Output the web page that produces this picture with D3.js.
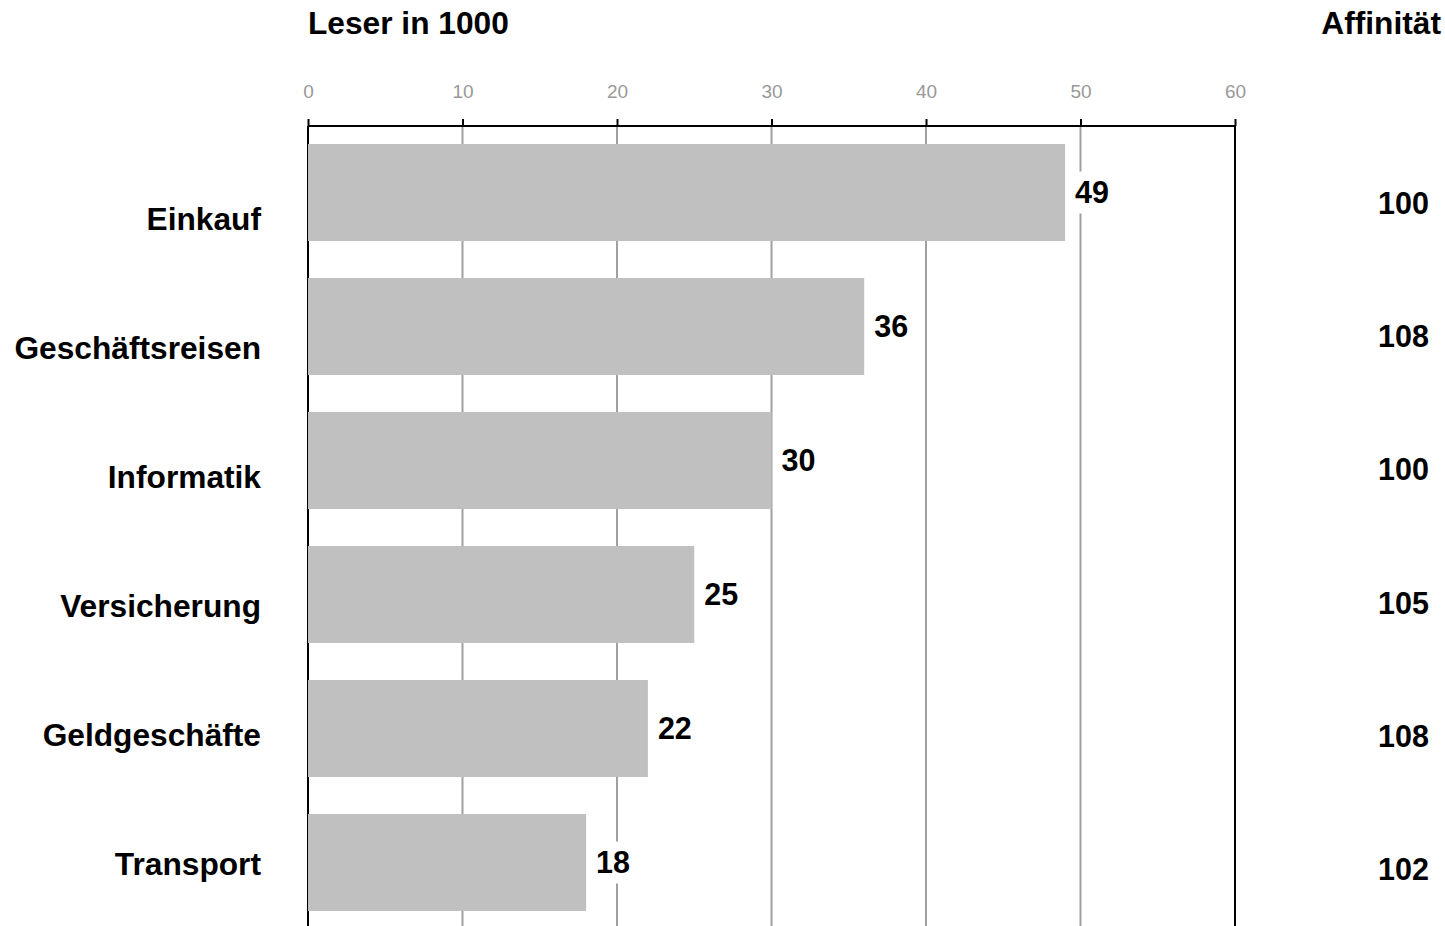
<!DOCTYPE html>
<html>
<head>
<meta charset="utf-8">
<script src="https://cdn.jsdelivr.net/npm/d3@7"></script>
<style>
  html, body { margin: 0; padding: 0; background: #fff; }
  svg { display: block; font-family: "Liberation Sans", Arial, sans-serif; }
</style>
</head>
<body>
<div id="chart"></div>
<script>
const categories = ["Einkauf", "Geschäftsreisen", "Informatik", "Versicherung", "Geldgeschäfte", "Transport"];
const readers = [49, 36, 30, 25, 22, 18];
const affinity = [100, 108, 100, 105, 108, 102];
const xTicks = [0, 10, 20, 30, 40, 50, 60];

const width = 1445, height = 926;

const svg = d3.select("#chart").append("svg")
  .attr("width", width)
  .attr("height", height);

const x = d3.scaleLinear().domain([0, 60]).range([308, 1235]);

const y = d3.scaleBand()
  .domain(categories)
  .range([144, 911])
  .paddingInner(0.276)
  .paddingOuter(0);

// labels on the left and the affinity column sit on their own rows
const yLabel = d3.scalePoint().domain(categories).range([230, 875]);
const yAff = d3.scalePoint().domain(categories).range([214, 880]);

const axisY = 126;

// grid lines
svg.append("g")
  .selectAll("line")
  .data(xTicks)
  .enter()
  .append("line")
  .attr("x1", d => x(d))
  .attr("x2", d => x(d))
  .attr("y1", axisY)
  .attr("y2", height)
  .attr("stroke", d => (d === 0 || d === 60) ? "#000" : "#a0a0a0")
  .attr("stroke-width", 2);

// top axis
const axis = svg.append("g")
  .attr("transform", `translate(0,${axisY})`)
  .call(d3.axisTop(x).tickValues(xTicks).tickSize(7).tickPadding(21));

axis.select(".domain")
  .attr("stroke", "#000")
  .attr("stroke-width", 2)
  .attr("d", `M${x(0)},0H${x(60)}`);
axis.selectAll(".tick line").attr("stroke", "#000").attr("stroke-width", 2);
axis.selectAll(".tick text")
  .attr("fill", "#999")
  .style("font-size", "19px")
  .style("font-family", "'Liberation Sans', Arial, sans-serif");

// bars
svg.append("g")
  .selectAll("rect")
  .data(categories)
  .enter()
  .append("rect")
  .attr("x", x(0))
  .attr("y", d => y(d))
  .attr("width", (d, i) => x(readers[i]) - x(0))
  .attr("height", y.bandwidth())
  .attr("fill", "#c0c0c0");

// value labels with white backing
const valueG = svg.append("g")
  .selectAll("g")
  .data(categories)
  .enter()
  .append("g")
  .attr("transform", (d, i) => `translate(${x(readers[i]) + 10},${y(d) + y.bandwidth() / 2})`);

valueG.append("rect")
  .attr("x", -4)
  .attr("y", -21)
  .attr("width", (d, i) => String(readers[i]).length * 17 + 8)
  .attr("height", 42)
  .attr("fill", "#fff");

valueG.append("text")
  .attr("dy", "0.36em")
  .style("font-size", "30.5px")
  .style("font-weight", "bold")
  .attr("fill", "#000")
  .text((d, i) => readers[i]);

// category labels
svg.append("g")
  .selectAll("text")
  .data(categories)
  .enter()
  .append("text")
  .attr("x", 261)
  .attr("y", d => yLabel(d))
  .attr("text-anchor", "end")
  .style("font-size", "31.7px")
  .style("font-weight", "bold")
  .text(d => d);

// affinity column
svg.append("g")
  .selectAll("text")
  .data(categories)
  .enter()
  .append("text")
  .attr("x", 1429)
  .attr("y", d => yAff(d))
  .attr("text-anchor", "end")
  .style("font-size", "30.5px")
  .style("font-weight", "bold")
  .text((d, i) => affinity[i]);

// headers
svg.append("text")
  .attr("x", 308)
  .attr("y", 34)
  .style("font-size", "31.7px")
  .style("font-weight", "bold")
  .text("Leser in 1000");

svg.append("text")
  .attr("x", 1441)
  .attr("y", 34)
  .attr("text-anchor", "end")
  .style("font-size", "31.7px")
  .style("font-weight", "bold")
  .text("Affinität");
</script>
</body>
</html>
